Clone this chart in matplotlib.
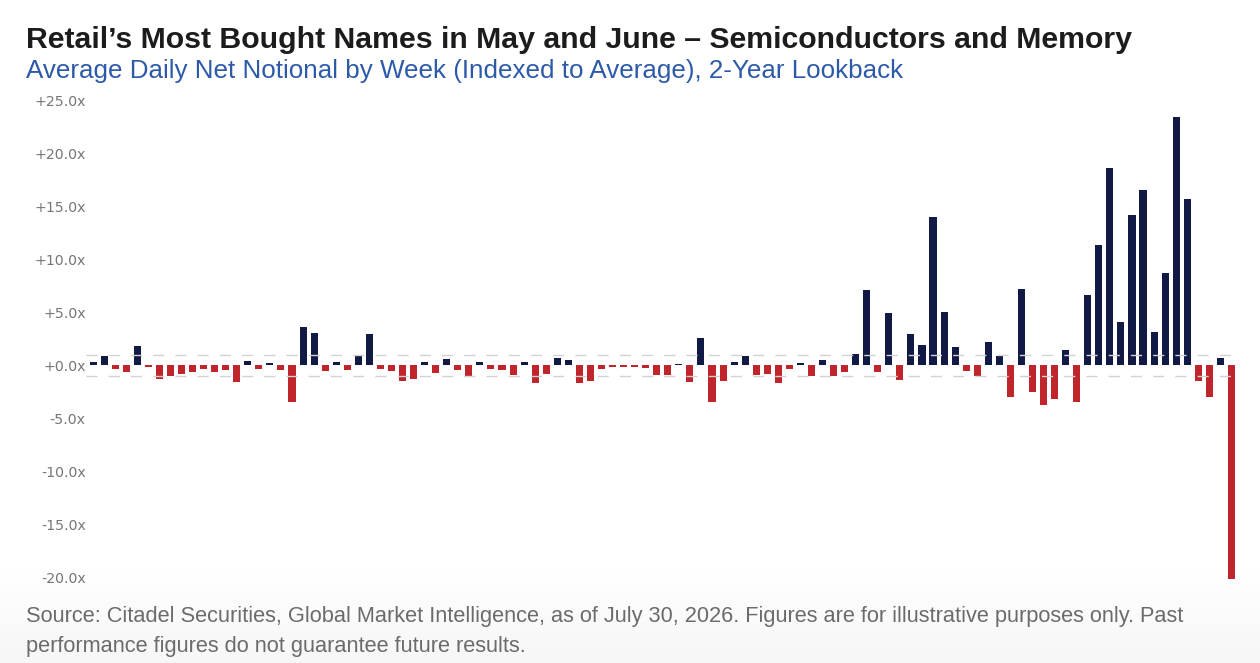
import numpy as np
import matplotlib
matplotlib.use("Agg")
import matplotlib.pyplot as plt

# weekly values, indexed to average (2-year lookback, 104 weeks)
values = [
    0.3, 0.9, -0.3, -0.6, 1.8, -0.1, -1.3, -1.0, -0.8, -0.6,
    -0.35, -0.6, -0.4, -1.6, 0.4, -0.3, 0.2, -0.4, -3.5, 3.65,
    3.1, -0.5, 0.35, -0.45, 1.0, 2.95, -0.35, -0.5, -1.45, -1.3,
    0.35, -0.7, 0.6, -0.4, -1.1, 0.3, -0.35, -0.4, -0.9, 0.3,
    -1.7, -0.8, 0.75, 0.5, -1.7, -1.45, -0.35, -0.15, -0.1, -0.15,
    -0.25, -0.95, -0.95, 0.1, -1.6, 2.6, -3.5, -1.5, 0.3, 0.9,
    -0.9, -0.8, -1.7, -0.35, 0.2, -1.0, 0.5, -1.0, -0.6, 1.1,
    7.15, -0.6, 4.95, -1.4, 3.0, 1.95, 14.0, 5.05, 1.7, -0.5,
    -1.0, 2.2, 0.9, -3.0, 7.2, -2.5, -3.7, -3.2, 1.45, -3.5,
    6.7, 11.4, 18.7, 4.15, 14.2, 16.6, 3.2, 8.7, 23.5, 15.7,
    -1.5, -2.95, 0.7, -20.2,
]
ticks = [25, 20, 15, 10, 5, 0, -5, -10, -15, -20]
tick_labels = ["%+.1fx" % t for t in ticks]

title = "Retail\u2019s Most Bought Names in May and June \u2013 Semiconductors and Memory"
subtitle = "Average Daily Net Notional by Week (Indexed to Average), 2-Year Lookback"
footer1 = ("Source: Citadel Securities, Global Market Intelligence, as of July 30, 2026. "
           "Figures are for illustrative purposes only. Past")
footer2 = "performance figures do not guarantee future results."

navy = "#111a45"
red = "#c1252c"

fig = plt.figure(figsize=(12.6, 6.63), dpi=100)

# faint grey band behind the footer
bg = fig.add_axes([0, 0, 1, 0.15], zorder=-5)
grad = np.linspace(0, 1, 50).reshape(-1, 1)
bg.imshow(grad, aspect="auto", cmap="Greys", vmin=0, vmax=14, extent=[0, 1, 0, 1])
bg.axis("off")

ax = fig.add_axes([0.0686, 0.1217, 0.914, 0.726])
x = np.arange(len(values))
colors = [navy if v >= 0 else red for v in values]
ax.bar(x, values, width=0.64, color=colors, zorder=2)

for lvl in (1, -1):
    ax.axhline(lvl, color="#d2d2d2", lw=1, ls=(0, (8, 8)), zorder=3)

ax.set_xlim(-0.6, len(values) - 0.4)
ax.set_ylim(-20.5, 25)
ax.set_yticks(ticks)
ax.set_yticklabels(tick_labels)
ax.set_xticks([])
ax.tick_params(axis="y", length=0, pad=0.5, labelsize=10.2, labelcolor="#767676")
for s in ax.spines.values():
    s.set_visible(False)
ax.patch.set_alpha(0)

fig.text(0.021, 0.9276, title, fontsize=21.8, fontweight="bold", color="#1c1c1c",
         family="Liberation Sans", va="baseline")
fig.text(0.021, 0.882, subtitle, fontsize=18.7, color="#2d5aa8",
         family="Liberation Sans", va="baseline")
fig.text(0.021, 0.0618, footer1, fontsize=15.7, color="#6b6b6b",
         family="Liberation Sans", va="baseline")
fig.text(0.021, 0.0166, footer2, fontsize=15.7, color="#6b6b6b",
         family="Liberation Sans", va="baseline")

fig.savefig("out.png", dpi=100)
